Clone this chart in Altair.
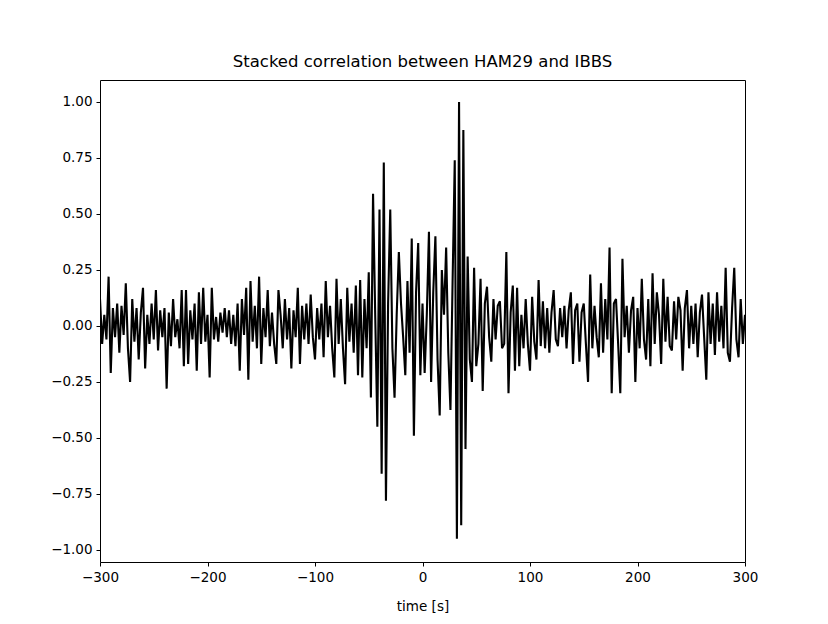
import altair as alt
import pandas as pd

# time step of 2 s, from -300 s to 300 s
t_start = -300
t_step = 2

amp_a = [0.12, -0.08, 0.05, -0.06, 0.22, -0.21, 0.08, -0.05, 0.10, -0.12,
         0.09, -0.04, 0.19, -0.10, -0.25, 0.12, -0.07, 0.08, -0.15, 0.06,
         0.17, -0.19, 0.05, -0.08, 0.10, -0.06, 0.16, -0.11, 0.07, -0.05,
         0.08, -0.28, 0.06, -0.09, 0.12, -0.05, 0.03, -0.10, 0.16, -0.18,
         0.16, -0.17, 0.07, -0.06, 0.10, -0.20, 0.15, -0.08, 0.17, -0.07,
         0.05, -0.23, 0.17, -0.06, 0.04, -0.07, 0.06, -0.03, 0.08, -0.05,
         0.07, -0.08, 0.05, -0.09, 0.10, -0.20, 0.12, -0.04, 0.17, -0.24,
         0.20, -0.07, 0.09, -0.10, 0.22, -0.17, 0.08, -0.05, 0.16, -0.09,
         0.06, -0.08, -0.17, 0.16, 0.05, -0.10, 0.12, -0.06, 0.08, -0.19,
         0.07, -0.05, 0.17, -0.17, 0.09, -0.06, 0.10, -0.08, 0.14, -0.05]

amp_b = [-0.15, 0.08, -0.06, 0.10, -0.14, 0.20, -0.05, 0.09, -0.10, -0.23,
         0.21, -0.08, 0.12, -0.10, -0.26, 0.17, -0.07, 0.10, -0.12, 0.18,
         -0.22, 0.205, -0.23, 0.12, -0.10, 0.24, -0.32, 0.59, 0.05, -0.45,
         0.52, -0.66, 0.73, -0.78, 0.10, 0.52, -0.10, -0.32, 0.05, 0.33,
         0.10, -0.05, -0.22, 0.20, -0.12, 0.39, -0.49, 0.15, 0.37, -0.22,
         0.10, -0.21, 0.05, 0.42, -0.25, 0.15, 0.40, -0.15, -0.40, 0.25,
         0.05, 0.35, -0.12, -0.375, 0.20, 0.74, -0.95, 1.00, -0.89, 0.875,
         -0.55, 0.31, -0.15, -0.25, 0.26, -0.18, -0.08, 0.21, -0.29, 0.10,
         0.175, -0.05, -0.16, 0.12, -0.06, 0.09, 0.11, -0.10, -0.08, 0.33,
         -0.30, 0.06, 0.18, -0.20, 0.17, -0.18, 0.05, -0.10, 0.12, -0.08]

amp_c = [-0.20, 0.13, -0.07, -0.15, 0.205, -0.09, 0.11, -0.10, 0.08, -0.12,
         0.06, 0.16, -0.06, -0.09, 0.08, -0.05, 0.09, -0.10, 0.07, 0.15,
         -0.17, 0.07, 0.10, -0.16, 0.06, 0.10, -0.08, -0.25, 0.23, -0.10,
         0.09, -0.05, -0.14, 0.19, -0.12, 0.12, -0.06, 0.35, -0.30, 0.10,
         0.12, -0.08, -0.30, 0.30, -0.05, 0.09, -0.12, 0.07, 0.13, -0.25,
         0.08, -0.10, 0.21, -0.06, -0.15, 0.12, -0.18, 0.235, -0.08, 0.15,
         0.05, -0.17, 0.21, -0.07, 0.13, -0.09, -0.11, 0.11, -0.06, 0.13,
         0.07, -0.20, 0.08, 0.16, -0.10, 0.09, -0.08, 0.10, -0.14, 0.06,
         0.14, -0.05, -0.24, 0.15, -0.08, 0.10, -0.13, 0.15, -0.07, 0.09,
         -0.10, 0.26, -0.12, -0.16, 0.08, 0.26, -0.06, -0.14, 0.12, -0.08,
         0.05]

x_ticks = [-300, -200, -100, 0, 100, 200, 300]
y_ticks = [-1.0, -0.75, -0.5, -0.25, 0.0, 0.25, 0.5, 0.75, 1.0]

amps = amp_a + amp_b + amp_c
times = [t_start + t_step * i for i in range(len(amps))]
df = pd.DataFrame({"time": times, "corr": amps})

font = "DejaVu Sans"

chart = (
    alt.Chart(df)
    .mark_line(color="black", strokeWidth=2.1, clip=True)
    .encode(
        x=alt.X(
            "time:Q",
            scale=alt.Scale(domain=[-300, 300], nice=False, zero=False),
            axis=alt.Axis(
                values=x_ticks, format="d", title="time [s]", grid=False,
                tickSize=4, tickColor="black", domain=False,
                labelFlush=False, labelOverlap=False,
                labelFontSize=13.5, labelColor="black", labelFont=font,
                labelPadding=4, titleFontSize=13.5, titleFont=font,
                titleFontWeight="normal", titleColor="black", titlePadding=16,
            ),
        ),
        y=alt.Y(
            "corr:Q",
            scale=alt.Scale(domain=[-1.054, 1.098], nice=False, zero=False),
            axis=alt.Axis(
                values=y_ticks, format=".2f", title=None, grid=False,
                tickSize=4, tickColor="black", domain=False,
                labelFlush=False, labelOverlap=False,
                labelFontSize=13.5, labelColor="black", labelFont=font,
                labelPadding=4,
            ),
        ),
    )
    .properties(
        width=645,
        height=482,
        title=alt.TitleParams(
            "Stacked correlation between HAM29 and IBBS",
            fontSize=16.5, font=font, fontWeight="normal", color="black",
            offset=10,
        ),
        autosize=alt.AutoSizeParams(type="none"),
        padding={"left": 92, "top": 72, "right": 60, "bottom": 60},
    )
    .configure(background="white")
    .configure_view(stroke="black", strokeWidth=1)
)

chart.save("out.html", embed_options={"renderer": "svg", "actions": False})
